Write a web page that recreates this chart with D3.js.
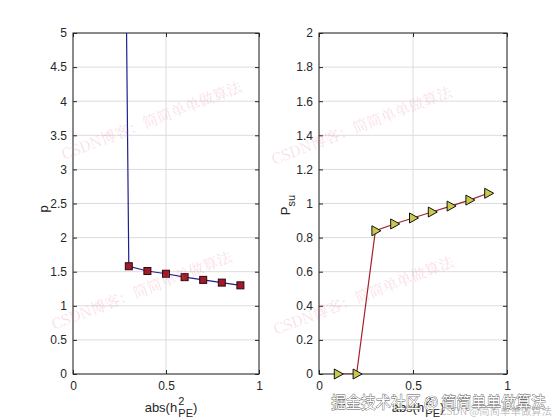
<!DOCTYPE html>
<html>
<head>
<meta charset="utf-8">
<script src="https://cdn.jsdelivr.net/npm/d3@7"></script>
<style>
  body { margin: 0; background: #fff; }
  svg { display: block; font-family: "Liberation Sans", Arial, sans-serif; }
  .tick text { fill: #262626; font-size: 12px; }
</style>
</head>
<body>
<svg id="chart" width="560" height="420"></svg>
<script>
// 横轴取值 abs(h_PE^2)
const hpe = [0.1, 0.2, 0.3, 0.4, 0.5, 0.6, 0.7, 0.8, 0.9]
// 左图 p（前两个点超出纵轴范围，被裁掉）
const pVals = [60, 30, 1.58, 1.51, 1.47, 1.42, 1.38, 1.34, 1.30]
// 右图 P_su
const psuVals = [0, 0, 0.84, 0.88, 0.915, 0.95, 0.985, 1.02, 1.06]

const leftYTicks = [0, 0.5, 1, 1.5, 2, 2.5, 3, 3.5, 4, 4.5, 5]
const rightYTicks = [0, 0.2, 0.4, 0.6, 0.8, 1, 1.2, 1.4, 1.6, 1.8, 2]
const xTicks = [0, 0.5, 1]

const svg = d3.select('#chart')

const panels = [
    { id: 'L', x0: 73, x1: 259, yMax: 5, yTicks: leftYTicks, values: pVals, ylab: 'p', sub: '',
      ylx: 48, yly: 209, line: '#1f1f8f', marker: 'square', fill: '#a3192b' },
    { id: 'R', x0: 319, x1: 507, yMax: 2, yTicks: rightYTicks, values: psuVals, ylab: 'P', sub: 'su',
      ylx: 290, yly: 205, line: '#a3202c', marker: 'triangle', fill: '#c9c94e' },
]
const plotTop = 33
const plotBottom = 374

panels.forEach(p => {
    const x = d3.scaleLinear().domain([0, 1]).range([p.x0, p.x1])
    const y = d3.scaleLinear().domain([0, p.yMax]).range([plotBottom, plotTop])
    const g = svg.append('g')

    // 网格线
    g.append('g').selectAll('line').data(xTicks).join('line')
        .attr('x1', d => x(d)).attr('x2', d => x(d)).attr('y1', plotTop).attr('y2', plotBottom)
        .attr('stroke', '#dcdcdc').attr('stroke-width', 1)
    g.append('g').selectAll('line').data(p.yTicks).join('line')
        .attr('y1', d => y(d)).attr('y2', d => y(d)).attr('x1', p.x0).attr('x2', p.x1)
        .attr('stroke', '#dcdcdc').attr('stroke-width', 1)

    // 坐标轴（刻度朝内）
    g.append('g').attr('transform', `translate(0,${plotBottom})`)
        .call(d3.axisBottom(x).tickValues(xTicks).tickSizeInner(-4).tickSizeOuter(0).tickPadding(7).tickFormat(d3.format('~g')))
    g.append('g').attr('transform', `translate(0,${plotTop})`)
        .call(d3.axisTop(x).tickValues(xTicks).tickSizeInner(-4).tickSizeOuter(0).tickFormat(''))
    g.append('g').attr('transform', `translate(${p.x0},0)`)
        .call(d3.axisLeft(y).tickValues(p.yTicks).tickSizeInner(-4).tickSizeOuter(0).tickPadding(6).tickFormat(d3.format('~g')))
    g.append('g').attr('transform', `translate(${p.x1},0)`)
        .call(d3.axisRight(y).tickValues(p.yTicks).tickSizeInner(-4).tickSizeOuter(0).tickFormat(''))
    g.selectAll('.domain').remove()
    g.selectAll('.tick line').attr('stroke', '#262626')
    g.append('rect').attr('x', p.x0).attr('y', plotTop).attr('width', p.x1 - p.x0).attr('height', plotBottom - plotTop)
        .attr('fill', 'none').attr('stroke', '#262626').attr('stroke-width', 1)

    // 数据线与标记
    svg.append('clipPath').attr('id', 'clip' + p.id)
        .append('rect').attr('x', p.x0).attr('y', plotTop).attr('width', p.x1 - p.x0).attr('height', plotBottom - plotTop)
    const data = hpe.map((h, i) => ({ h, v: p.values[i] }))
    const plot = svg.append('g').attr('clip-path', `url(#clip${p.id})`)
    plot.append('path').datum(data)
        .attr('fill', 'none').attr('stroke', p.line).attr('stroke-width', 1.2)
        .attr('d', d3.line().x(d => x(d.h)).y(d => y(d.v)))
    const shown = data.filter(d => d.v <= p.yMax)
    if (p.marker === 'square') {
        svg.append('g').selectAll('rect').data(shown).join('rect')
            .attr('x', d => x(d.h) - 3.5).attr('y', d => y(d.v) - 3.5)
            .attr('width', 7).attr('height', 7)
            .attr('fill', p.fill).attr('stroke', '#2a0a0a').attr('stroke-width', 1)
    } else {
        svg.append('g').selectAll('path').data(shown).join('path')
            .attr('transform', d => `translate(${x(d.h)},${y(d.v)})`)
            .attr('d', 'M-3.5,-5L5.5,0L-3.5,5Z')
            .attr('fill', p.fill).attr('stroke', '#111').attr('stroke-width', 1)
    }

    // 轴标题
    const xl = svg.append('text').attr('x', (p.x0 + p.x1) / 2 + 5).attr('y', 412)
        .attr('text-anchor', 'middle').attr('font-size', 13).attr('fill', '#262626')
    xl.append('tspan').text('abs(h')
    xl.append('tspan').attr('dx', 1).attr('dy', -7).attr('font-size', 11).text('2')
    xl.append('tspan').attr('dx', -6).attr('dy', 12).attr('font-size', 11).text('PE')
    xl.append('tspan').attr('dy', -5).text(')')

    const yl = svg.append('text').attr('transform', `translate(${p.ylx},${p.yly}) rotate(-90)`)
        .attr('text-anchor', 'middle').attr('font-size', 13).attr('fill', '#262626')
    yl.append('tspan').text(p.ylab)
    if (p.sub) yl.append('tspan').attr('dy', 5).attr('font-size', 11).text(p.sub)
})

// 水印
const marks = [[64, 160], [274, 165], [54, 330], [276, 335]]
svg.append('g').selectAll('text').data(marks).join('text')
    .attr('transform', d => `translate(${d[0]},${d[1]}) rotate(-21)`)
    .attr('font-family', '"Noto Serif CJK SC", "Noto Sans CJK SC", serif')
    .attr('font-size', 15).attr('fill', 'rgba(235,120,150,0.25)')
    .text('CSDN博客：简简单单做算法')

svg.append('text').attr('x', 331).attr('y', 408)
    .attr('font-family', '"Noto Sans CJK SC", sans-serif').attr('font-size', 16)
    .attr('textLength', 215).attr('lengthAdjust', 'spacingAndGlyphs')
    .attr('fill', '#fff').attr('stroke', '#555').attr('stroke-width', 0.8).attr('paint-order', 'stroke')
    .text('掘金技术社区 @ 简简单单做算法')
svg.append('text').attr('x', 440).attr('y', 415)
    .attr('font-family', '"Noto Sans CJK SC", sans-serif').attr('font-size', 10)
    .attr('textLength', 112).attr('lengthAdjust', 'spacingAndGlyphs')
    .attr('fill', 'rgba(150,150,150,0.6)')
    .text('CSDN @简简单单做算法')
</script>
</body>
</html>
